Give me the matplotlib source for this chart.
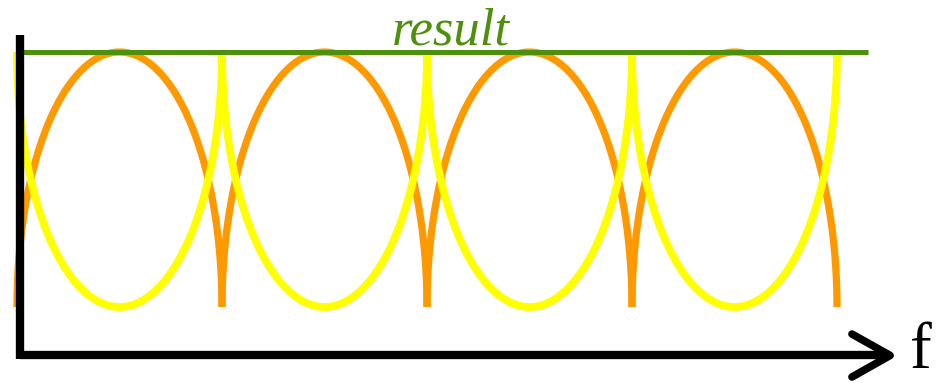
import numpy as np
import matplotlib.pyplot as plt

# arch centres along f (one period = 1), arch heights and the summed level
orange_centers = [0.5, 1.5, 2.5, 3.5]
orange_heights = [1.0, 1.0, 1.0, 1.0]
yellow_centers = [0.5, 1.5, 2.5, 3.5]
yellow_depths = [1.0, 1.0, 1.0, 1.0]
result_level = 1.0
half_width = 0.5

ORANGE = "#ff9900"
YELLOW = "#ffff00"
GREEN = "#4e8f0c"

fig = plt.figure(figsize=(9.4, 3.83), dpi=100)
ax = fig.add_axes([0, 0, 1, 1])
ax.set_xlim(-0.0829, 4.5024)
ax.set_ylim(-0.298, 1.204)
ax.axis("off")

t = np.linspace(0, np.pi, 400)

# orange: elliptic arches standing on the baseline
for c, h in zip(orange_centers, orange_heights):
    ax.plot(c - half_width * np.cos(t), h * np.sin(t), color=ORANGE,
            lw=5.2, solid_capstyle="butt", zorder=2)

# yellow: the complement, hanging from the result level
for c, d in zip(yellow_centers, yellow_depths):
    ax.plot(c - half_width * np.cos(t), result_level - d * np.sin(t),
            color=YELLOW, lw=5.6, solid_capstyle="butt", zorder=3)

# result = orange + yellow
x_axis0 = 0.0146
ax.plot([x_axis0, 4.151], [result_level, result_level], color=GREEN,
        lw=3.6, solid_capstyle="butt", zorder=4)
ax.text(2.117, 1.031, "result", color=GREEN, fontsize=38, style="italic",
        family="Liberation Serif", ha="center", va="baseline", zorder=5)

# axes drawn by hand with an open arrow head
y_axis0 = -0.19
ax.plot([x_axis0, x_axis0], [-0.204, 1.067], color="black", lw=6,
        solid_capstyle="butt", zorder=6)
ax.plot([x_axis0, 4.259], [y_axis0, y_axis0], color="black", lw=6,
        solid_capstyle="butt", zorder=6)
ax.plot([4.073, 4.259, 4.073], [-0.106, y_axis0, -0.2745], color="black",
        lw=5.5, solid_capstyle="round", solid_joinstyle="round", zorder=6)
ax.text(4.356, -0.294, "f", color="black", fontsize=47,
        family="Liberation Serif", ha="left", va="bottom")

fig.savefig("out.png", dpi=100)
